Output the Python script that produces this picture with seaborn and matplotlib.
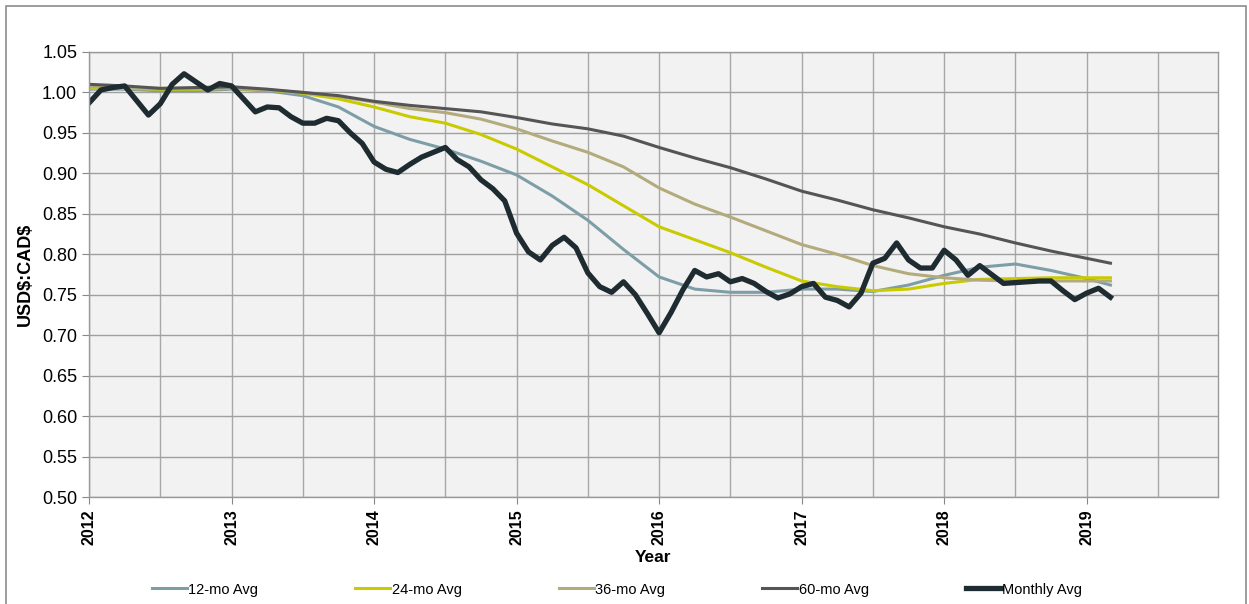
import numpy as np
import pandas as pd
import matplotlib
matplotlib.use("Agg")
import matplotlib.pyplot as plt
import seaborn as sns
from matplotlib.patches import Rectangle
from matplotlib.ticker import MultipleLocator

# monthly average, Jan 2012 .. Mar 2019
monthly = [
    0.987, 1.003, 1.006, 1.008, 0.990, 0.972, 0.986, 1.010, 1.023, 1.013, 1.003, 1.011,
    1.008, 0.992, 0.976, 0.982, 0.981, 0.970, 0.962, 0.962, 0.968, 0.965, 0.950, 0.937,
    0.914, 0.905, 0.901, 0.911, 0.920, 0.926, 0.932, 0.917, 0.908, 0.892, 0.881, 0.866,
    0.826, 0.803, 0.793, 0.811, 0.821, 0.808, 0.777, 0.760, 0.753, 0.766, 0.750, 0.727,
    0.703, 0.728, 0.756, 0.780, 0.772, 0.776, 0.766, 0.770, 0.764, 0.754, 0.746, 0.751,
    0.760, 0.764, 0.747, 0.743, 0.735, 0.752, 0.789, 0.795, 0.814, 0.793, 0.783, 0.783,
    0.805, 0.793, 0.774, 0.786, 0.775, 0.764, 0.765, 0.766, 0.767, 0.767, 0.755, 0.744,
    0.752, 0.758, 0.747,
]

# moving averages read quarterly, Jan 2012 .. Mar 2019
avg_years = [2012.0, 2012.25, 2012.5, 2012.75, 2013.0, 2013.25, 2013.5, 2013.75,
             2014.0, 2014.25, 2014.5, 2014.75, 2015.0, 2015.25, 2015.5, 2015.75,
             2016.0, 2016.25, 2016.5, 2016.75, 2017.0, 2017.25, 2017.5, 2017.75,
             2018.0, 2018.25, 2018.5, 2018.75, 2019.0, 2019.1667]
avg_12 = [1.004, 1.004, 1.002, 1.002, 1.004, 1.002, 0.996, 0.982,
          0.958, 0.942, 0.930, 0.915, 0.898, 0.872, 0.842, 0.806,
          0.772, 0.757, 0.753, 0.753, 0.757, 0.757, 0.754, 0.762,
          0.774, 0.784, 0.788, 0.780, 0.770, 0.762]
avg_24 = [1.005, 1.005, 1.004, 1.004, 1.005, 1.003, 0.999, 0.992,
          0.982, 0.970, 0.962, 0.948, 0.930, 0.908, 0.886, 0.860,
          0.834, 0.818, 0.802, 0.784, 0.767, 0.760, 0.755, 0.757,
          0.764, 0.769, 0.770, 0.771, 0.771, 0.771]
avg_36 = [1.007, 1.006, 1.005, 1.005, 1.005, 1.003, 1.000, 0.995,
          0.988, 0.980, 0.975, 0.967, 0.955, 0.940, 0.926, 0.908,
          0.882, 0.862, 0.846, 0.829, 0.812, 0.800, 0.786, 0.776,
          0.771, 0.768, 0.767, 0.767, 0.767, 0.767]
avg_60 = [1.010, 1.008, 1.005, 1.006, 1.007, 1.004, 1.000, 0.996,
          0.989, 0.984, 0.980, 0.976, 0.969, 0.961, 0.955, 0.946,
          0.932, 0.919, 0.907, 0.893, 0.878, 0.867, 0.855, 0.845,
          0.834, 0.825, 0.814, 0.804, 0.795, 0.789]

month_years = 2012 + np.arange(len(monthly)) / 12

series = [
    ("12-mo Avg", avg_years, avg_12, "#7d9ea6", 2.2),
    ("24-mo Avg", avg_years, avg_24, "#c9cb00", 2.2),
    ("36-mo Avg", avg_years, avg_36, "#b3ab7c", 2.2),
    ("60-mo Avg", avg_years, avg_60, "#555555", 2.2),
    ("Monthly Avg", month_years, monthly, "#1e2b31", 3.8),
]

plt.rcParams['font.family'] = ['Liberation Sans', 'DejaVu Sans']

fig = plt.figure(figsize=(12.49, 6.04), dpi=100)
ax = fig.add_axes([0.0713, 0.177, 0.9037, 0.737])
ax.set_facecolor("#f2f2f2")

for name, xs, ys, color, lw in series:
    df = pd.DataFrame({"Year": xs, "Rate": ys})
    sns.lineplot(data=df, x="Year", y="Rate", ax=ax, color=color, linewidth=lw, label=name)

ax.set_xlim(2012, 2019.92)
ax.set_ylim(0.5, 1.05)
ax.xaxis.set_major_locator(MultipleLocator(1))
ax.xaxis.set_minor_locator(MultipleLocator(0.5))
ax.yaxis.set_major_locator(MultipleLocator(0.05))
ax.yaxis.set_major_formatter(matplotlib.ticker.FormatStrFormatter('%.2f'))
ax.grid(which="both", axis="x", color="#a8a8a8", linewidth=1)
ax.grid(which="major", axis="y", color="#a0a0a0", linewidth=1)
ax.set_axisbelow(True)

ax.tick_params(axis="y", labelsize=13, length=5, color="#888888", labelcolor="black")
ax.tick_params(axis="x", which="major", labelsize=11.5, length=5, color="#888888", labelrotation=90)
ax.tick_params(axis="x", which="minor", length=0)
for lab in ax.get_xticklabels():
    lab.set_fontweight("bold")

for side in ["left", "bottom", "right", "top"]:
    ax.spines[side].set_color("#999999")
    ax.spines[side].set_linewidth(1)

ax.set_xlabel("Year", fontsize=12.5, fontweight="bold", labelpad=4)
ax.set_ylabel("USD\\$:CAD\\$", fontsize=13, fontweight="bold", labelpad=6)

handles, labels = ax.get_legend_handles_labels()
ax.get_legend().remove()
fig.legend(handles, labels, frameon=False, loc="center", bbox_to_anchor=(0.494, 0.024), ncol=5,
           fontsize=10.5, handlelength=2.4, handletextpad=0.1, columnspacing=6.65)

fig.patches.append(Rectangle((6 / 1249, -0.01), 1240 / 1249, 1 - 6 / 604 + 0.01,
                             transform=fig.transFigure, fill=False, edgecolor="#8c8c8c", linewidth=1.2))

fig.savefig("out.png", dpi=100)
